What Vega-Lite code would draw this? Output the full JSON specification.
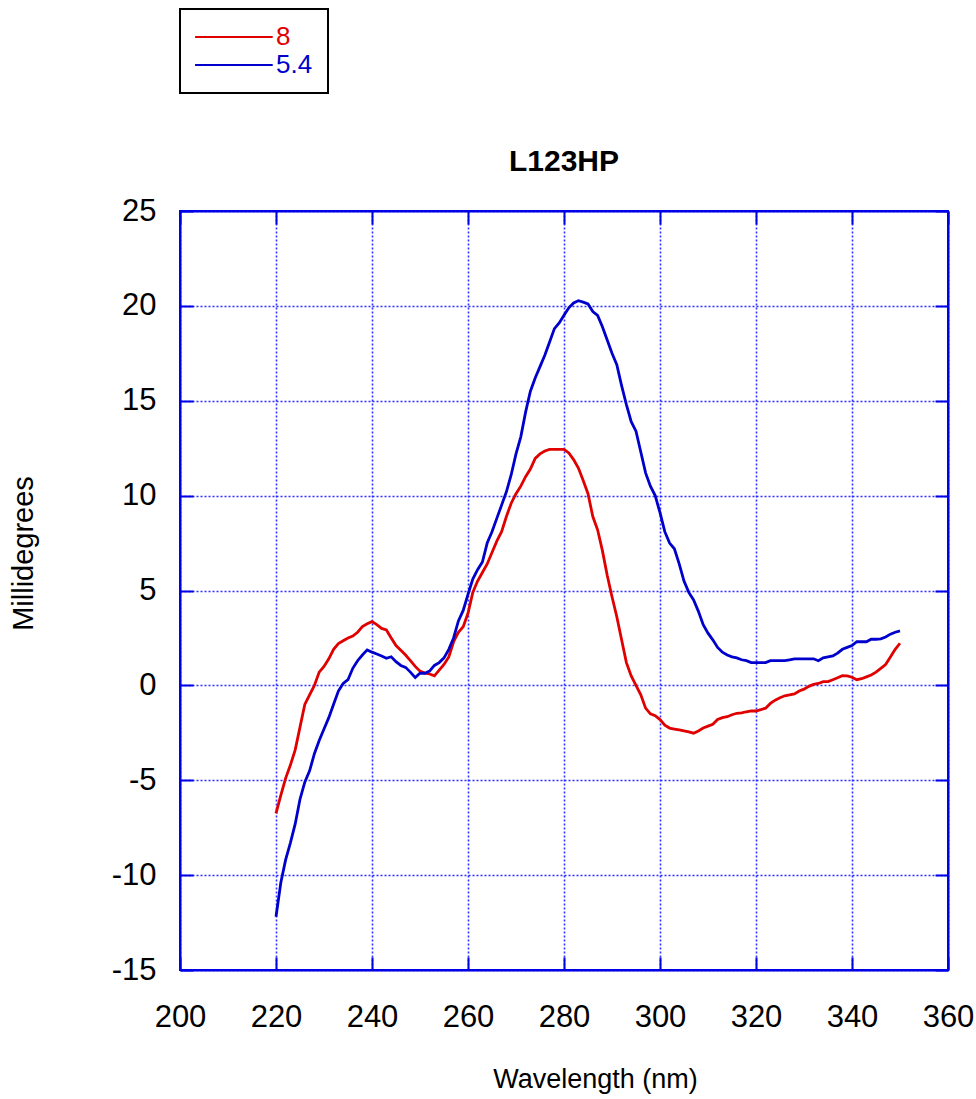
{
  "$schema": "https://vega.github.io/schema/vega-lite/v6.json",
  "width": 768,
  "height": 759,
  "autosize": {"type": "none"},
  "padding": {"left": 180, "top": 211, "right": 28, "bottom": 129},
  "background": "white",
  "config": {
    "font": "Liberation Sans",
    "view": {"stroke": "#0000e6", "strokeWidth": 2},
    "axis": {"labelFont": "Liberation Sans", "titleFont": "Liberation Sans", "labelColor": "black", "titleColor": "black"},
    "legend": {"labelFont": "Liberation Sans"}
  },
  "title": {"text": "L123HP", "fontSize": 30, "fontWeight": "bold", "font": "Liberation Sans", "color": "black", "anchor": "middle", "frame": "group", "baseline": "alphabetic", "offset": -193},
  "data": {"values": [
    {"nm":220,"md":-6.74,"s":"8"},{"nm":221,"md":-5.8,"s":"8"},{"nm":222,"md":-4.9,"s":"8"},{"nm":223,"md":-4.2,"s":"8"},{"nm":224,"md":-3.4,"s":"8"},
    {"nm":225,"md":-2.2,"s":"8"},{"nm":226,"md":-1.0,"s":"8"},{"nm":227,"md":-0.5,"s":"8"},{"nm":228,"md":0.0,"s":"8"},{"nm":229,"md":0.7,"s":"8"},
    {"nm":230,"md":1.0,"s":"8"},{"nm":231,"md":1.4,"s":"8"},{"nm":232,"md":1.9,"s":"8"},{"nm":233,"md":2.2,"s":"8"},{"nm":234,"md":2.35,"s":"8"},
    {"nm":235,"md":2.5,"s":"8"},{"nm":236,"md":2.6,"s":"8"},{"nm":237,"md":2.8,"s":"8"},{"nm":238,"md":3.1,"s":"8"},{"nm":239,"md":3.25,"s":"8"},
    {"nm":240,"md":3.36,"s":"8"},{"nm":241,"md":3.2,"s":"8"},{"nm":242,"md":3.0,"s":"8"},{"nm":243,"md":2.92,"s":"8"},{"nm":244,"md":2.5,"s":"8"},
    {"nm":245,"md":2.1,"s":"8"},{"nm":246,"md":1.85,"s":"8"},{"nm":247,"md":1.6,"s":"8"},{"nm":248,"md":1.3,"s":"8"},{"nm":249,"md":1.0,"s":"8"},
    {"nm":250,"md":0.75,"s":"8"},{"nm":251,"md":0.65,"s":"8"},{"nm":252,"md":0.6,"s":"8"},{"nm":253,"md":0.5,"s":"8"},{"nm":254,"md":0.8,"s":"8"},
    {"nm":255,"md":1.1,"s":"8"},{"nm":256,"md":1.5,"s":"8"},{"nm":257,"md":2.3,"s":"8"},{"nm":258,"md":2.8,"s":"8"},{"nm":259,"md":3.09,"s":"8"},
    {"nm":260,"md":3.8,"s":"8"},{"nm":261,"md":4.9,"s":"8"},{"nm":262,"md":5.5,"s":"8"},{"nm":263,"md":5.95,"s":"8"},{"nm":264,"md":6.4,"s":"8"},
    {"nm":265,"md":7.0,"s":"8"},{"nm":266,"md":7.6,"s":"8"},{"nm":267,"md":8.1,"s":"8"},{"nm":268,"md":8.9,"s":"8"},{"nm":269,"md":9.6,"s":"8"},
    {"nm":270,"md":10.1,"s":"8"},{"nm":271,"md":10.5,"s":"8"},{"nm":272,"md":11.0,"s":"8"},{"nm":273,"md":11.4,"s":"8"},{"nm":274,"md":11.96,"s":"8"},
    {"nm":275,"md":12.2,"s":"8"},{"nm":276,"md":12.35,"s":"8"},{"nm":277,"md":12.44,"s":"8"},{"nm":278,"md":12.44,"s":"8"},{"nm":279,"md":12.44,"s":"8"},
    {"nm":280,"md":12.44,"s":"8"},{"nm":281,"md":12.25,"s":"8"},{"nm":282,"md":11.9,"s":"8"},{"nm":283,"md":11.45,"s":"8"},{"nm":284,"md":10.8,"s":"8"},
    {"nm":285,"md":10.1,"s":"8"},{"nm":286,"md":8.9,"s":"8"},{"nm":287,"md":8.2,"s":"8"},{"nm":288,"md":7.1,"s":"8"},{"nm":289,"md":5.8,"s":"8"},
    {"nm":290,"md":4.67,"s":"8"},{"nm":291,"md":3.62,"s":"8"},{"nm":292,"md":2.4,"s":"8"},{"nm":293,"md":1.2,"s":"8"},{"nm":294,"md":0.5,"s":"8"},
    {"nm":295,"md":0.0,"s":"8"},{"nm":296,"md":-0.5,"s":"8"},{"nm":297,"md":-1.2,"s":"8"},{"nm":298,"md":-1.5,"s":"8"},{"nm":299,"md":-1.6,"s":"8"},
    {"nm":300,"md":-1.8,"s":"8"},{"nm":301,"md":-2.1,"s":"8"},{"nm":302,"md":-2.25,"s":"8"},{"nm":303,"md":-2.3,"s":"8"},{"nm":304,"md":-2.35,"s":"8"},
    {"nm":305,"md":-2.4,"s":"8"},{"nm":306,"md":-2.45,"s":"8"},{"nm":307,"md":-2.52,"s":"8"},{"nm":308,"md":-2.4,"s":"8"},{"nm":309,"md":-2.25,"s":"8"},
    {"nm":310,"md":-2.15,"s":"8"},{"nm":311,"md":-2.05,"s":"8"},{"nm":312,"md":-1.8,"s":"8"},{"nm":313,"md":-1.7,"s":"8"},{"nm":314,"md":-1.65,"s":"8"},
    {"nm":315,"md":-1.55,"s":"8"},{"nm":316,"md":-1.47,"s":"8"},{"nm":317,"md":-1.45,"s":"8"},{"nm":318,"md":-1.39,"s":"8"},{"nm":319,"md":-1.35,"s":"8"},
    {"nm":320,"md":-1.35,"s":"8"},{"nm":321,"md":-1.28,"s":"8"},{"nm":322,"md":-1.2,"s":"8"},{"nm":323,"md":-0.95,"s":"8"},{"nm":324,"md":-0.78,"s":"8"},
    {"nm":325,"md":-0.65,"s":"8"},{"nm":326,"md":-0.55,"s":"8"},{"nm":327,"md":-0.5,"s":"8"},{"nm":328,"md":-0.45,"s":"8"},{"nm":329,"md":-0.3,"s":"8"},
    {"nm":330,"md":-0.2,"s":"8"},{"nm":331,"md":-0.05,"s":"8"},{"nm":332,"md":0.05,"s":"8"},{"nm":333,"md":0.1,"s":"8"},{"nm":334,"md":0.2,"s":"8"},
    {"nm":335,"md":0.2,"s":"8"},{"nm":336,"md":0.3,"s":"8"},{"nm":337,"md":0.4,"s":"8"},{"nm":338,"md":0.51,"s":"8"},{"nm":339,"md":0.5,"s":"8"},
    {"nm":340,"md":0.43,"s":"8"},{"nm":341,"md":0.3,"s":"8"},{"nm":342,"md":0.35,"s":"8"},{"nm":343,"md":0.45,"s":"8"},{"nm":344,"md":0.55,"s":"8"},
    {"nm":345,"md":0.7,"s":"8"},{"nm":346,"md":0.9,"s":"8"},{"nm":347,"md":1.1,"s":"8"},{"nm":348,"md":1.5,"s":"8"},{"nm":349,"md":1.9,"s":"8"},
    {"nm":350,"md":2.22,"s":"8"},
    {"nm":220,"md":-12.19,"s":"5.4"},{"nm":221,"md":-10.4,"s":"5.4"},{"nm":222,"md":-9.2,"s":"5.4"},{"nm":223,"md":-8.3,"s":"5.4"},{"nm":224,"md":-7.3,"s":"5.4"},
    {"nm":225,"md":-6.0,"s":"5.4"},{"nm":226,"md":-5.1,"s":"5.4"},{"nm":227,"md":-4.5,"s":"5.4"},{"nm":228,"md":-3.6,"s":"5.4"},{"nm":229,"md":-2.9,"s":"5.4"},
    {"nm":230,"md":-2.3,"s":"5.4"},{"nm":231,"md":-1.7,"s":"5.4"},{"nm":232,"md":-1.0,"s":"5.4"},{"nm":233,"md":-0.3,"s":"5.4"},{"nm":234,"md":0.1,"s":"5.4"},
    {"nm":235,"md":0.3,"s":"5.4"},{"nm":236,"md":0.9,"s":"5.4"},{"nm":237,"md":1.3,"s":"5.4"},{"nm":238,"md":1.6,"s":"5.4"},{"nm":239,"md":1.87,"s":"5.4"},
    {"nm":240,"md":1.75,"s":"5.4"},{"nm":241,"md":1.65,"s":"5.4"},{"nm":242,"md":1.55,"s":"5.4"},{"nm":243,"md":1.43,"s":"5.4"},{"nm":244,"md":1.51,"s":"5.4"},
    {"nm":245,"md":1.25,"s":"5.4"},{"nm":246,"md":1.05,"s":"5.4"},{"nm":247,"md":0.95,"s":"5.4"},{"nm":248,"md":0.7,"s":"5.4"},{"nm":249,"md":0.41,"s":"5.4"},
    {"nm":250,"md":0.64,"s":"5.4"},{"nm":251,"md":0.64,"s":"5.4"},{"nm":252,"md":0.75,"s":"5.4"},{"nm":253,"md":1.05,"s":"5.4"},{"nm":254,"md":1.2,"s":"5.4"},
    {"nm":255,"md":1.45,"s":"5.4"},{"nm":256,"md":1.9,"s":"5.4"},{"nm":257,"md":2.5,"s":"5.4"},{"nm":258,"md":3.4,"s":"5.4"},{"nm":259,"md":3.95,"s":"5.4"},
    {"nm":260,"md":4.8,"s":"5.4"},{"nm":261,"md":5.6,"s":"5.4"},{"nm":262,"md":6.1,"s":"5.4"},{"nm":263,"md":6.5,"s":"5.4"},{"nm":264,"md":7.5,"s":"5.4"},
    {"nm":265,"md":8.1,"s":"5.4"},{"nm":266,"md":8.8,"s":"5.4"},{"nm":267,"md":9.5,"s":"5.4"},{"nm":268,"md":10.2,"s":"5.4"},{"nm":269,"md":11.1,"s":"5.4"},
    {"nm":270,"md":12.2,"s":"5.4"},{"nm":271,"md":13.1,"s":"5.4"},{"nm":272,"md":14.4,"s":"5.4"},{"nm":273,"md":15.5,"s":"5.4"},{"nm":274,"md":16.2,"s":"5.4"},
    {"nm":275,"md":16.8,"s":"5.4"},{"nm":276,"md":17.4,"s":"5.4"},{"nm":277,"md":18.1,"s":"5.4"},{"nm":278,"md":18.8,"s":"5.4"},{"nm":279,"md":19.1,"s":"5.4"},
    {"nm":280,"md":19.5,"s":"5.4"},{"nm":281,"md":19.9,"s":"5.4"},{"nm":282,"md":20.15,"s":"5.4"},{"nm":283,"md":20.27,"s":"5.4"},{"nm":284,"md":20.2,"s":"5.4"},
    {"nm":285,"md":20.1,"s":"5.4"},{"nm":286,"md":19.7,"s":"5.4"},{"nm":287,"md":19.5,"s":"5.4"},{"nm":288,"md":18.9,"s":"5.4"},{"nm":289,"md":18.2,"s":"5.4"},
    {"nm":290,"md":17.5,"s":"5.4"},{"nm":291,"md":16.9,"s":"5.4"},{"nm":292,"md":15.8,"s":"5.4"},{"nm":293,"md":14.8,"s":"5.4"},{"nm":294,"md":13.9,"s":"5.4"},
    {"nm":295,"md":13.4,"s":"5.4"},{"nm":296,"md":12.3,"s":"5.4"},{"nm":297,"md":11.2,"s":"5.4"},{"nm":298,"md":10.5,"s":"5.4"},{"nm":299,"md":10.0,"s":"5.4"},
    {"nm":300,"md":9.1,"s":"5.4"},{"nm":301,"md":8.1,"s":"5.4"},{"nm":302,"md":7.5,"s":"5.4"},{"nm":303,"md":7.2,"s":"5.4"},{"nm":304,"md":6.4,"s":"5.4"},
    {"nm":305,"md":5.5,"s":"5.4"},{"nm":306,"md":4.9,"s":"5.4"},{"nm":307,"md":4.5,"s":"5.4"},{"nm":308,"md":3.9,"s":"5.4"},{"nm":309,"md":3.2,"s":"5.4"},
    {"nm":310,"md":2.75,"s":"5.4"},{"nm":311,"md":2.4,"s":"5.4"},{"nm":312,"md":2.0,"s":"5.4"},{"nm":313,"md":1.75,"s":"5.4"},{"nm":314,"md":1.6,"s":"5.4"},
    {"nm":315,"md":1.5,"s":"5.4"},{"nm":316,"md":1.45,"s":"5.4"},{"nm":317,"md":1.35,"s":"5.4"},{"nm":318,"md":1.3,"s":"5.4"},{"nm":319,"md":1.2,"s":"5.4"},
    {"nm":320,"md":1.2,"s":"5.4"},{"nm":321,"md":1.2,"s":"5.4"},{"nm":322,"md":1.2,"s":"5.4"},{"nm":323,"md":1.3,"s":"5.4"},{"nm":324,"md":1.3,"s":"5.4"},
    {"nm":325,"md":1.3,"s":"5.4"},{"nm":326,"md":1.3,"s":"5.4"},{"nm":327,"md":1.35,"s":"5.4"},{"nm":328,"md":1.4,"s":"5.4"},{"nm":329,"md":1.4,"s":"5.4"},
    {"nm":330,"md":1.4,"s":"5.4"},{"nm":331,"md":1.4,"s":"5.4"},{"nm":332,"md":1.4,"s":"5.4"},{"nm":333,"md":1.3,"s":"5.4"},{"nm":334,"md":1.45,"s":"5.4"},
    {"nm":335,"md":1.5,"s":"5.4"},{"nm":336,"md":1.55,"s":"5.4"},{"nm":337,"md":1.7,"s":"5.4"},{"nm":338,"md":1.9,"s":"5.4"},{"nm":339,"md":2.0,"s":"5.4"},
    {"nm":340,"md":2.1,"s":"5.4"},{"nm":341,"md":2.3,"s":"5.4"},{"nm":342,"md":2.3,"s":"5.4"},{"nm":343,"md":2.3,"s":"5.4"},{"nm":344,"md":2.43,"s":"5.4"},
    {"nm":345,"md":2.43,"s":"5.4"},{"nm":346,"md":2.45,"s":"5.4"},{"nm":347,"md":2.55,"s":"5.4"},{"nm":348,"md":2.7,"s":"5.4"},{"nm":349,"md":2.8,"s":"5.4"},
    {"nm":350,"md":2.87,"s":"5.4"}
  ]},
  "layer": [
    {
      "mark": {"type": "point", "opacity": 0},
      "encoding": {
        "x": {"field": "nm", "type": "quantitative", "scale": {"domain": [200, 360], "nice": false, "zero": false},
              "axis": {"orient": "top", "values": [200,220,240,260,280,300,320,340,360], "labels": false, "title": null, "grid": false, "ticks": true, "tickSize": -13, "tickWidth": 2, "tickColor": "#0000e6", "domainColor": "#0000e6", "domainWidth": 2}},
        "y": {"field": "md", "type": "quantitative", "scale": {"domain": [-15, 25], "nice": false, "zero": false},
              "axis": {"orient": "right", "values": [-15,-10,-5,0,5,10,15,20,25], "labels": false, "title": null, "grid": false, "ticks": true, "tickSize": -13, "tickWidth": 2, "tickColor": "#0000e6", "domainColor": "#0000e6", "domainWidth": 2}}
      }
    },
    {
      "mark": {"type": "line", "strokeWidth": 2.8},
      "encoding": {
        "x": {"field": "nm", "type": "quantitative", "scale": {"domain": [200, 360], "nice": false, "zero": false},
              "axis": {"orient": "bottom", "values": [200,220,240,260,280,300,320,340,360], "title": "Wavelength (nm)",
                       "labelFontSize": 31, "labelPadding": 45, "labelFlush": false, "labelOverlap": false, "labelExpr": "datum.value + ''",
                       "tickSize": -13, "tickWidth": 2, "tickColor": "#0000e6", "domainColor": "#0000e6", "domainWidth": 2,
                       "grid": true, "gridColor": "#1a1aff", "gridDash": [2, 2], "gridWidth": 1.6, "gridOpacity": 0.9,
                       "titleFontSize": 27, "titleFontWeight": "normal", "titleX": 415, "titleY": 117, "titleBaseline": "alphabetic", "titleAlign": "center", "titleAnchor": null}},
        "y": {"field": "md", "type": "quantitative", "scale": {"domain": [-15, 25], "nice": false, "zero": false},
              "axis": {"orient": "left", "values": [-15,-10,-5,0,5,10,15,20,25], "title": "Millidegrees",
                       "labelFontSize": 31, "labelPadding": 37, "labelFlush": false, "labelOverlap": false, "labelExpr": "datum.value + ''",
                       "tickSize": -13, "tickWidth": 2, "tickColor": "#0000e6", "domainColor": "#0000e6", "domainWidth": 2,
                       "grid": true, "gridColor": "#1a1aff", "gridDash": [2, 2], "gridWidth": 1.6, "gridOpacity": 0.9,
                       "titleFontSize": 29, "titleFontWeight": "normal", "titleX": -148, "titleY": 342, "titleAngle": -90, "titleBaseline": "alphabetic", "titleAlign": "center", "titleAnchor": null}},
        "color": {"field": "s", "type": "nominal", "sort": ["8", "5.4"],
                  "scale": {"domain": ["8", "5.4"], "range": ["#e00000", "#0000cc"]},
                  "legend": {"orient": "none", "legendX": 0, "legendY": -202, "title": null,
                             "symbolType": "M-1.4,0H7", "symbolSize": 342, "symbolStrokeWidth": 2,
                             "labelFontSize": 26, "labelOffset": 55, "rowPadding": 2, "padding": 15,
                             "strokeColor": "black", "fillColor": "white",
                             "encode": {
                               "labels": {"update": {"fill": {"signal": "datum.label === '8' ? '#e00000' : '#0000cc'"}}},
                               "legend": {"update": {"strokeWidth": {"value": 2}}}
                             }}}
      }
    }
  ],
  "resolve": {"axis": {"x": "independent", "y": "independent"}}
}
